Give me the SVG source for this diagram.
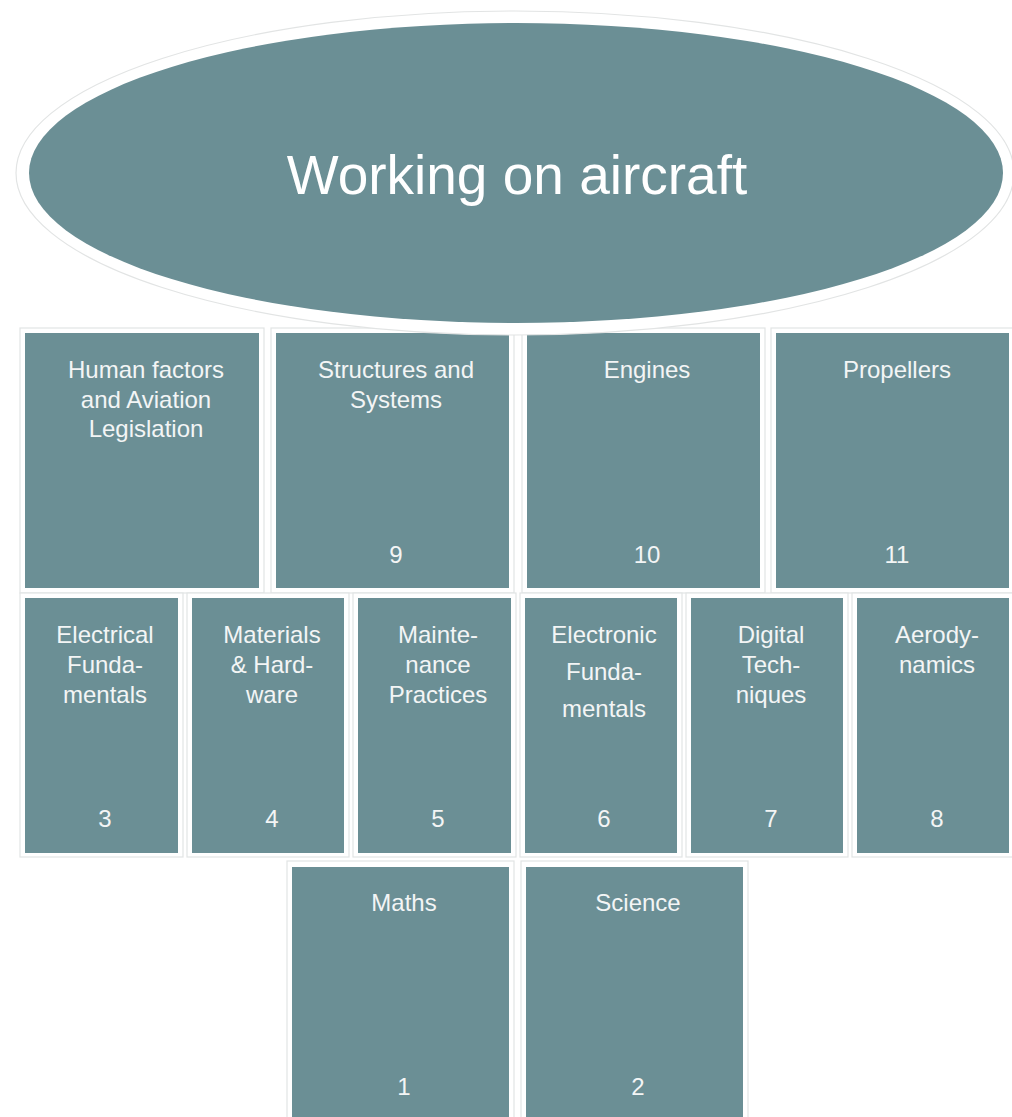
<svg xmlns="http://www.w3.org/2000/svg" width="1012" height="1117" viewBox="0 0 1012 1117">
  <style>
    .frame { fill: #ffffff; stroke: #e2e4e4; stroke-width: 1.2; }
    .tile { fill: #6b8f95; }
    .lbl { font-family: "Liberation Sans", Arial, sans-serif; font-size: 24px; fill: #f3f5f5; text-anchor: middle; }
    .title { font-family: "Liberation Sans", Arial, sans-serif; font-size: 55px; fill: #ffffff; text-anchor: middle; }
  </style>
  <rect width="1012" height="1117" fill="#ffffff"/>

  <!-- Row 1: modules 9-11 and human factors -->
  <g id="human-factors">
    <rect class="frame" x="20" y="328" width="244" height="265"/>
    <rect class="tile" x="25" y="333" width="234" height="255"/>
    <text class="lbl" x="146" y="378">Human factors</text>
    <text class="lbl" x="146" y="408">and Aviation</text>
    <text class="lbl" x="146" y="437">Legislation</text>
  </g>
  <g id="structures">
    <rect class="frame" x="271" y="328" width="243" height="265"/>
    <rect class="tile" x="276" y="333" width="233" height="255"/>
    <text class="lbl" x="396" y="378">Structures and</text>
    <text class="lbl" x="396" y="408">Systems</text>
    <text class="lbl" x="396" y="563">9</text>
  </g>
  <g id="engines">
    <rect class="frame" x="522" y="328" width="243" height="265"/>
    <rect class="tile" x="527" y="333" width="233" height="255"/>
    <text class="lbl" x="647" y="378">Engines</text>
    <text class="lbl" x="647" y="563">10</text>
  </g>
  <g id="propellers">
    <rect class="frame" x="771" y="328" width="243" height="265"/>
    <rect class="tile" x="776" y="333" width="233" height="255"/>
    <text class="lbl" x="897" y="378">Propellers</text>
    <text class="lbl" x="897" y="563">11</text>
  </g>

  <!-- Row 2: modules 3-8 -->
  <g id="electrical">
    <rect class="frame" x="20" y="593" width="163" height="264"/>
    <rect class="tile" x="25" y="598" width="153" height="255"/>
    <text class="lbl" x="105" y="643">Electrical</text>
    <text class="lbl" x="105" y="673">Funda-</text>
    <text class="lbl" x="105" y="703">mentals</text>
    <text class="lbl" x="105" y="827">3</text>
  </g>
  <g id="materials">
    <rect class="frame" x="187" y="593" width="162" height="264"/>
    <rect class="tile" x="192" y="598" width="152" height="255"/>
    <text class="lbl" x="272" y="643">Materials</text>
    <text class="lbl" x="272" y="673">&amp; Hard-</text>
    <text class="lbl" x="272" y="703">ware</text>
    <text class="lbl" x="272" y="827">4</text>
  </g>
  <g id="maintenance">
    <rect class="frame" x="353" y="593" width="163" height="264"/>
    <rect class="tile" x="358" y="598" width="153" height="255"/>
    <text class="lbl" x="438" y="643">Mainte-</text>
    <text class="lbl" x="438" y="673">nance</text>
    <text class="lbl" x="438" y="703">Practices</text>
    <text class="lbl" x="438" y="827">5</text>
  </g>
  <g id="electronic">
    <rect class="frame" x="520" y="593" width="162" height="264"/>
    <rect class="tile" x="525" y="598" width="152" height="255"/>
    <text class="lbl" x="604" y="643">Electronic</text>
    <text class="lbl" x="604" y="680">Funda-</text>
    <text class="lbl" x="604" y="717">mentals</text>
    <text class="lbl" x="604" y="827">6</text>
  </g>
  <g id="digital">
    <rect class="frame" x="686" y="593" width="162" height="264"/>
    <rect class="tile" x="691" y="598" width="152" height="255"/>
    <text class="lbl" x="771" y="643">Digital</text>
    <text class="lbl" x="771" y="673">Tech-</text>
    <text class="lbl" x="771" y="703">niques</text>
    <text class="lbl" x="771" y="827">7</text>
  </g>
  <g id="aerodynamics">
    <rect class="frame" x="852" y="593" width="162" height="264"/>
    <rect class="tile" x="857" y="598" width="152" height="255"/>
    <text class="lbl" x="937" y="643">Aerody-</text>
    <text class="lbl" x="937" y="673">namics</text>
    <text class="lbl" x="937" y="827">8</text>
  </g>

  <!-- Row 3: modules 1-2 -->
  <g id="maths">
    <rect class="frame" x="287" y="861" width="227" height="270"/>
    <rect class="tile" x="292" y="867" width="217" height="260"/>
    <text class="lbl" x="404" y="911">Maths</text>
    <text class="lbl" x="404" y="1095">1</text>
  </g>
  <g id="science">
    <rect class="frame" x="521" y="861" width="227" height="270"/>
    <rect class="tile" x="526" y="867" width="217" height="260"/>
    <text class="lbl" x="638" y="911">Science</text>
    <text class="lbl" x="638" y="1095">2</text>
  </g>

  <!-- Top ellipse -->
  <g id="working-on-aircraft">
    <ellipse cx="515" cy="173" rx="499" ry="162" fill="#ffffff" stroke="#e2e4e4" stroke-width="1.2"/>
    <ellipse cx="516" cy="173" rx="487" ry="150" fill="#6b8f95"/>
    <text class="title" x="517" y="194">Working on aircraft</text>
  </g>

  <g id="connectors"/>
</svg>
